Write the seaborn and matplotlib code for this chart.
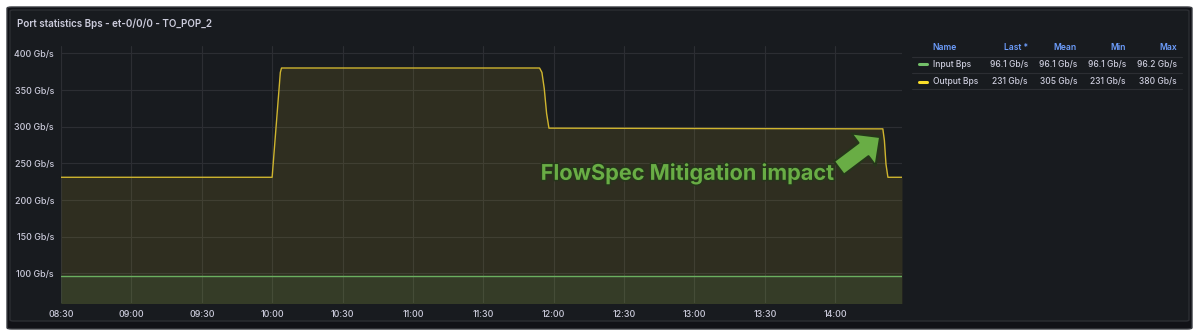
import numpy as np
import pandas as pd
import matplotlib
matplotlib.use("Agg")
import matplotlib.pyplot as plt
import matplotlib.dates as mdates
from matplotlib.patches import FancyBboxPatch
from matplotlib.lines import Line2D
import matplotlib.patheffects as pe
import seaborn as sns

# ---------------- data ----------------
DAY = "2024-01-01 "
output_times = ["08:30:00", "10:00:00", "10:03:30", "10:04:00", "11:54:00", "11:55:00",
                "11:56:00", "11:57:00", "11:58:00", "14:20:20", "14:21:00", "14:21:40",
                "14:22:30", "14:28:30"]
output_values = [231, 231, 374, 380, 380, 374, 352, 318, 298, 297, 281, 249, 231, 231]
input_times = ["08:30:00", "14:28:30"]
input_values = [96.1, 96.1]

y_ticks = [100, 150, 200, 250, 300, 350, 400]
x_tick_labels = ["08:30", "09:00", "09:30", "10:00", "10:30", "11:00", "11:30",
                 "12:00", "12:30", "13:00", "13:30", "14:00"]

title = "Port statistics Bps - et-0/0/0 - TO_POP_2"
annotation_text = "FlowSpec Mitigation impact"

legend_headers = ["Name", "Last *", "Mean", "Min", "Max"]
legend_names = ["Input Bps", "Output Bps"]
legend_last = ["96.1 Gb/s", "231 Gb/s"]
legend_mean = ["96.1 Gb/s", "305 Gb/s"]
legend_min = ["96.1 Gb/s", "231 Gb/s"]
legend_max = ["96.2 Gb/s", "380 Gb/s"]

# ---------------- style ----------------
W, H = 1200, 336
PANEL = "#181b1f"
TXT = "#ccccdc"
GRID = "#2c2e33"
GREEN = "#73bf69"
YELLOW = "#fade2a"
YLINE = "#cfb52f"

sns.set_theme(style="dark")
plt.rcParams["font.family"] = ["Inter", "DejaVu Sans"]

fig = plt.figure(figsize=(W / 100, H / 100), dpi=100, facecolor="white")

def fx(px):
    return px / W

def fy(py):
    return 1 - py / H

# panel background
fig.patches.append(FancyBboxPatch((fx(7), fy(329)), fx(1192) - fx(7), fy(7) - fy(329),
                                  boxstyle="round,pad=0,rounding_size=0.004",
                                  transform=fig.transFigure, facecolor="#111217",
                                  edgecolor="#3a3c42", linewidth=1, zorder=-2))
fig.patches.append(FancyBboxPatch((fx(10), fy(321)), fx(1189) - fx(10), fy(10) - fy(321),
                                  boxstyle="round,pad=0,rounding_size=0.003",
                                  transform=fig.transFigure, facecolor=PANEL,
                                  edgecolor="#2c2e33", linewidth=1, zorder=-1))

ax_l, ax_r, ax_t, ax_b = 61, 902, 46, 302.7
ax = fig.add_axes([fx(ax_l), fy(ax_b), fx(ax_r) - fx(ax_l), fy(ax_t) - fy(ax_b)])
ax.set_facecolor("none")

out_df = pd.DataFrame({"time": pd.to_datetime([DAY + t for t in output_times]),
                       "value": output_values})
in_df = pd.DataFrame({"time": pd.to_datetime([DAY + t for t in input_times]),
                      "value": input_values})

ax.fill_between(out_df["time"], 0, out_df["value"], color=YELLOW, alpha=0.1,
                linewidth=0, zorder=2)
ax.fill_between(in_df["time"], 0, in_df["value"], color=GREEN, alpha=0.1,
                linewidth=0, zorder=2)
sns.lineplot(data=in_df, x="time", y="value", ax=ax, color="#6aaf60", linewidth=1.0, zorder=4)
sns.lineplot(data=out_df, x="time", y="value", ax=ax, color=YLINE, linewidth=1.0, zorder=4)

ax.set_xlim(pd.Timestamp(DAY + "08:30:00"), pd.Timestamp(DAY + "14:28:30"))
ax.set_ylim(60, 410)
ax.set_yticks(y_ticks)
ax.set_yticklabels([f"{v} Gb/s" for v in y_ticks], fontweight="medium")
ax.set_xticks(pd.to_datetime([DAY + t for t in x_tick_labels]))
ax.set_xticklabels(x_tick_labels, fontweight="medium")
ax.set_xlabel("")
ax.set_ylabel("")
for s in ax.spines.values():
    s.set_visible(False)
ax.grid(True, color=GRID, linewidth=0.8, zorder=1)
ax.set_axisbelow(True)
ax.tick_params(axis="both", length=0, colors=TXT, labelsize=6.4)
ax.tick_params(axis="y", pad=5)
ax.tick_params(axis="x", pad=5)

# title
fig.text(fx(17), fy(24), title, color=TXT, fontsize=7.1, fontweight="semibold",
         ha="left", va="center")

# annotation text
ax.text(0.5704, 0.504, annotation_text, transform=ax.transAxes, color="#69ad45",
        fontsize=15.6, fontweight="bold", ha="left", va="center", zorder=6,
        path_effects=[pe.withStroke(linewidth=2.2, foreground="#25361a")])

# arrow
ax.annotate("", xy=(0.974, 0.6455), xytext=(0.925, 0.5247),
            xycoords="axes fraction", textcoords="axes fraction", zorder=6,
            arrowprops=dict(arrowstyle="simple,head_length=1.5,head_width=2.9,tail_width=1.2",
                            mutation_scale=10, facecolor="#69ad45", edgecolor="#25361a",
                            linewidth=1.5, shrinkA=0, shrinkB=0))

# legend table
HDR = "#6e9fff"
col_x = [932.7, 1028, 1077, 1126, 1177]
col_ha = ["left", "right", "right", "right", "right"]
for x, h, ha in zip(col_x, legend_headers, col_ha):
    fig.text(fx(x), fy(47.3), h, color=HDR, fontsize=6.1, fontweight="semibold",
             ha=ha, va="center")
row_y = [64.3, 81.7]
colors = [GREEN, YELLOW]
for i, y in enumerate(row_y):
    vals = [legend_names[i], legend_last[i], legend_mean[i], legend_min[i], legend_max[i]]
    for x, v, ha in zip(col_x, vals, col_ha):
        fig.text(fx(x), fy(y), v, color=TXT, fontsize=6.1, fontweight="medium",
                 ha=ha, va="center")
    fig.lines.append(Line2D([fx(918.5), fx(926.5)], [fy(y), fy(y)], transform=fig.transFigure,
                            color=colors[i], linewidth=2.2, solid_capstyle="round"))
for y in [56.7, 73.3, 89.3]:
    fig.lines.append(Line2D([fx(912), fx(1182)], [fy(y), fy(y)], transform=fig.transFigure,
                            color=GRID, linewidth=0.8))

fig.savefig("out.png", dpi=100, facecolor="white")
